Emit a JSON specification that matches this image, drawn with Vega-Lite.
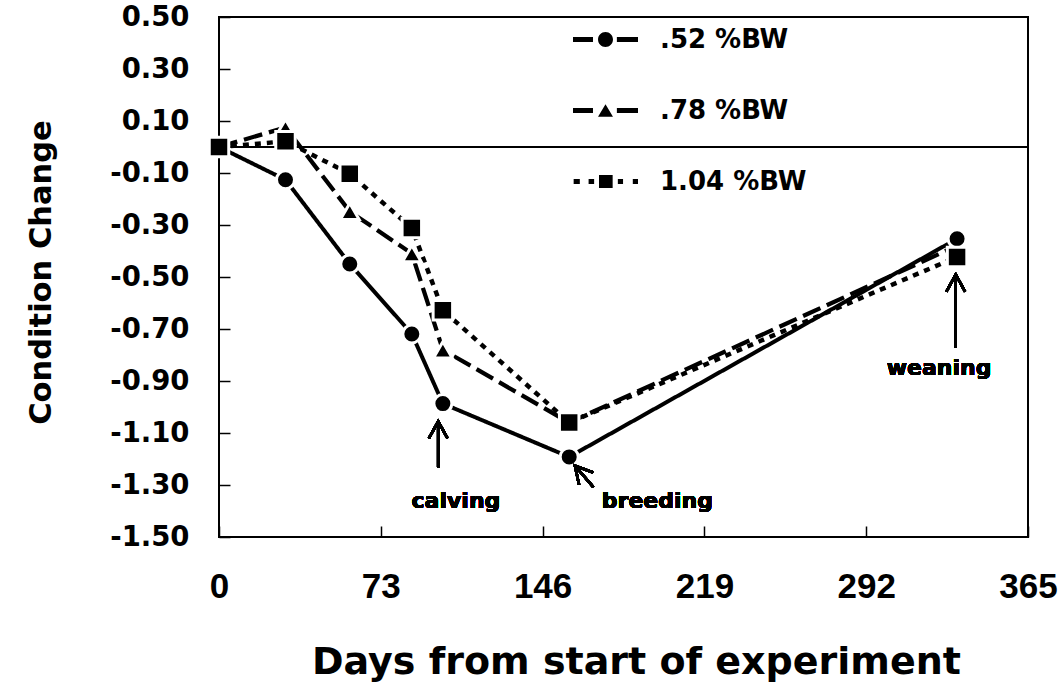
{
  "$schema": "https://vega.github.io/schema/vega-lite/v6.json",
  "autosize": {"type": "none"},
  "padding": {"left": 219, "top": 17, "right": 34, "bottom": 153},
  "width": 809,
  "height": 520,
  "background": "white",
  "config": {
    "view": {"stroke": "black", "strokeWidth": 2},
    "axis": {"domain": false, "grid": false, "tickColor": "black", "tickWidth": 1.5, "tickSize": -11, "labelColor": "black", "titleColor": "black", "labelFlush": false}
  },
  "data": {
    "values": [
      {"series": ".78 %BW", "day": 0, "change": 0},
      {"series": ".78 %BW", "day": 30, "change": 0.075},
      {"series": ".78 %BW", "day": 59, "change": -0.248},
      {"series": ".78 %BW", "day": 87, "change": -0.41},
      {"series": ".78 %BW", "day": 101, "change": -0.78},
      {"series": ".78 %BW", "day": 158, "change": -1.06},
      {"series": ".78 %BW", "day": 333, "change": -0.38},
      {"series": ".52 %BW", "day": 0, "change": 0},
      {"series": ".52 %BW", "day": 30, "change": -0.126},
      {"series": ".52 %BW", "day": 59, "change": -0.45},
      {"series": ".52 %BW", "day": 87, "change": -0.719},
      {"series": ".52 %BW", "day": 101, "change": -0.987},
      {"series": ".52 %BW", "day": 158, "change": -1.192},
      {"series": ".52 %BW", "day": 333, "change": -0.353},
      {"series": "1.04 %BW", "day": 0, "change": 0},
      {"series": "1.04 %BW", "day": 30, "change": 0.022},
      {"series": "1.04 %BW", "day": 59, "change": -0.103},
      {"series": "1.04 %BW", "day": 87, "change": -0.312},
      {"series": "1.04 %BW", "day": 101, "change": -0.628},
      {"series": "1.04 %BW", "day": 158, "change": -1.06},
      {"series": "1.04 %BW", "day": 333, "change": -0.423}
    ]
  },
  "encoding": {
    "x": {
      "field": "day", "type": "quantitative",
      "scale": {"domain": [0, 365], "nice": false, "zero": false},
      "axis": {
        "values": [0, 73, 146, 219, 292, 365],
        "title": "Days from start of experiment",
        "labelFont": "Liberation Sans", "labelFontWeight": "bold", "labelFontSize": 35,
        "labelPadding": 43, "labelBaseline": "top",
        "titleFont": "DejaVu Sans", "titleFontWeight": "bold", "titleFontSize": 38,
        "titleX": 417, "titleY": 136, "titleBaseline": "alphabetic", "titleAlign": "center", "titleAnchor": null
      }
    },
    "y": {
      "field": "change", "type": "quantitative",
      "scale": {"domain": [-1.5, 0.5], "nice": false, "zero": false},
      "axis": {
        "values": [0.5, 0.3, 0.1, -0.1, -0.3, -0.5, -0.7, -0.9, -1.1, -1.3, -1.5],
        "labelExpr": "(datum.value < 0 ? '-' : '') + format(abs(datum.value), '.2f')",
        "title": "Condition Change",
        "labelFont": "DejaVu Sans", "labelFontWeight": "bold", "labelFontSize": 27.5,
        "labelPadding": 41,
        "titleFont": "DejaVu Sans", "titleFontWeight": "bold", "titleFontSize": 30.5,
        "titleX": -178, "titleY": 255, "titleAngle": -90, "titleBaseline": "middle", "titleAlign": "center", "titleAnchor": null
      }
    }
  },
  "layer": [
    {
      "mark": {"type": "rule", "color": "black", "strokeWidth": 1.5},
      "encoding": {"y": {"datum": 0}, "x": {"value": 0}, "x2": {"value": 809}}
    },
    {
      "mark": {"type": "line", "color": "black", "strokeCap": "butt"},
      "encoding": {
        "detail": {"field": "series"},
        "strokeDash": {
          "field": "series", "type": "nominal",
          "scale": {"domain": [".52 %BW", ".78 %BW", "1.04 %BW"], "range": [[1, 0], [19, 7], [6, 6]]},
          "legend": null
        },
        "strokeWidth": {
          "field": "series", "type": "nominal",
          "scale": {"domain": [".52 %BW", ".78 %BW", "1.04 %BW"], "range": [4, 4.5, 5.5]},
          "legend": null
        }
      }
    },
    {
      "mark": {"type": "point", "filled": true, "fill": "black", "stroke": "white", "strokeWidth": 3, "opacity": 1},
      "encoding": {
        "shape": {
          "field": "series", "type": "nominal",
          "scale": {"domain": [".52 %BW", ".78 %BW", "1.04 %BW"], "range": ["circle", "triangle-up", "square"]},
          "legend": null
        },
        "size": {
          "field": "series", "type": "nominal",
          "scale": {"domain": [".52 %BW", ".78 %BW", "1.04 %BW"], "range": [324, 380, 210]},
          "legend": null
        }
      }
    },
    {
      "mark": {"type": "point", "filled": true, "color": "black", "opacity": 0},
      "encoding": {
        "shape": {
          "field": "series", "type": "nominal",
          "scale": {
            "domain": [".52 %BW", ".78 %BW", "1.04 %BW"],
            "range": [
              "M-1,-0.077H-0.385V0.077H-1Z M-0.23,0A0.23,0.23 0 1,1 0.23,0A0.23,0.23 0 1,1 -0.23,0Z M0.35,-0.077H1V0.077H0.35Z",
              "M-1,-0.077H-0.385V0.077H-1Z M-0.23,0.19L0,-0.19L0.23,0.19Z M0.35,-0.077H1V0.077H0.35Z",
              "M-0.98,-0.08H-0.79V0.08H-0.98Z M-0.52,-0.08H-0.35V0.08H-0.52Z M-0.2,-0.2H0.22V0.2H-0.2Z M0.38,-0.08H0.54V0.08H0.38Z M0.84,-0.08H1V0.08H0.84Z"
            ]
          },
          "legend": {
            "orient": "none", "legendX": 354, "legendY": -10, "title": null,
            "symbolSize": 4225, "symbolOpacity": 1, "symbolFillColor": "black", "symbolStrokeWidth": 0,
            "labelFont": "DejaVu Sans", "labelFontWeight": "bold", "labelFontSize": 26, "labelColor": "black",
            "labelOffset": 22, "rowPadding": 25, "padding": 0
          }
        }
      }
    },
    {
      "mark": {"type": "rule", "color": "black", "strokeWidth": 2.5},
      "encoding": {"x": {"datum": 98.9}, "y": {"datum": -1.055}, "y2": {"datum": -1.233}}
    },
    {
      "mark": {"type": "point", "shape": "M-0.55,1L0,0L0.55,1", "size": 1156, "filled": false, "stroke": "black", "strokeWidth": 2.5, "opacity": 1},
      "encoding": {"x": {"datum": 98.9}, "y": {"datum": -1.055}}
    },
    {
      "mark": {"type": "text", "text": "calving", "font": "DejaVu Sans", "fontWeight": "bold", "fontSize": 22, "align": "center", "baseline": "middle", "color": "black"},
      "encoding": {"x": {"datum": 106.9}, "y": {"datum": -1.36}}
    },
    {
      "mark": {"type": "rule", "color": "black", "strokeWidth": 2.5},
      "encoding": {"x": {"datum": 160.6}, "y": {"datum": -1.226}, "x2": {"datum": 168.9}, "y2": {"datum": -1.308}}
    },
    {
      "mark": {"type": "point", "shape": "M-0.55,1L0,0L0.55,1", "size": 1156, "filled": false, "stroke": "black", "strokeWidth": 2.5, "opacity": 1, "angle": -41},
      "encoding": {"x": {"datum": 160.6}, "y": {"datum": -1.226}}
    },
    {
      "mark": {"type": "text", "text": "breeding", "font": "DejaVu Sans", "fontWeight": "bold", "fontSize": 22, "align": "center", "baseline": "middle", "color": "black"},
      "encoding": {"x": {"datum": 197.8}, "y": {"datum": -1.363}}
    },
    {
      "mark": {"type": "rule", "color": "black", "strokeWidth": 2.5},
      "encoding": {"x": {"datum": 332.4}, "y": {"datum": -0.491}, "y2": {"datum": -0.773}}
    },
    {
      "mark": {"type": "point", "shape": "M-0.55,1L0,0L0.55,1", "size": 1156, "filled": false, "stroke": "black", "strokeWidth": 2.5, "opacity": 1},
      "encoding": {"x": {"datum": 332.4}, "y": {"datum": -0.491}}
    },
    {
      "mark": {"type": "text", "text": "weaning", "font": "DejaVu Sans", "fontWeight": "bold", "fontSize": 22, "align": "center", "baseline": "middle", "color": "black"},
      "encoding": {"x": {"datum": 324.9}, "y": {"datum": -0.85}}
    }
  ],
  "resolve": {"scale": {"shape": "independent", "size": "independent"}}
}
